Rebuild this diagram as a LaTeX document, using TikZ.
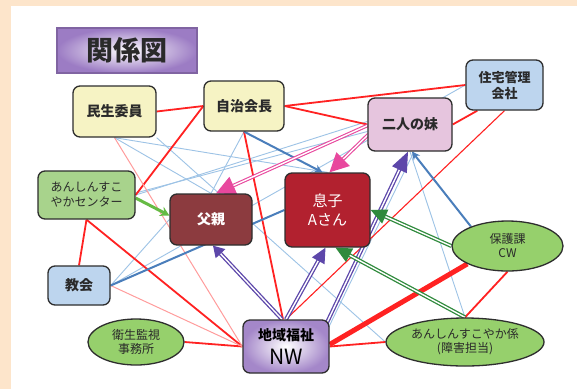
\documentclass[tikz,border=0pt]{standalone}
\usepackage{fontspec}
\newfontfamily\jp{Noto Sans CJK JP}
\usetikzlibrary{arrows.meta,calc,shapes.geometric}
\pgfdeclarelayer{panel}
\pgfdeclarelayer{edges}
\pgfsetlayers{panel,edges,main}
\definecolor{peach}{HTML}{FDE5CB}
\definecolor{yel}{HTML}{F6F3C4}
\definecolor{lblue}{HTML}{BDD5EE}
\definecolor{lpink}{HTML}{E6C5DE}
\definecolor{boxgreen}{HTML}{A8D38C}
\definecolor{ellgreen}{HTML}{96D06C}
\definecolor{chichicol}{HTML}{8C3B3F}
\definecolor{musukocol}{HTML}{B2212F}
\definecolor{boxline}{HTML}{2E2E2E}
\definecolor{textdark}{HTML}{2A2A2A}
\definecolor{nwpurple}{HTML}{A487C9}
\definecolor{titlepurple}{HTML}{9C7CC4}
\definecolor{titleborder}{HTML}{8064A2}
\definecolor{redc}{HTML}{FF2222}
\definecolor{pinkthinc}{HTML}{FF9C9C}
\definecolor{lbc}{HTML}{9DC3E6}
\definecolor{mbc}{HTML}{4A7EBB}
\definecolor{pinkc}{HTML}{E8489E}
\definecolor{purc}{HTML}{5D47AA}
\definecolor{grc}{HTML}{2F8A3C}
\definecolor{lgc}{HTML}{66BB44}
\tikzset{
  box/.style={draw=boxline, line width=1.3pt, rounded corners=7pt, align=center,
    inner sep=0pt, text=textdark, font=\jp\bfseries\fontsize{14}{17}\selectfont},
  ell/.style={ellipse, draw=boxline, line width=1.3pt, fill=ellgreen, align=center,
    inner sep=0pt, text=textdark, font=\jp\fontsize{12}{14}\selectfont},
  redl/.style={draw=redc, line width=1.8pt},
  redthick/.style={draw=redc, line width=5pt},
  redthin/.style={draw=redc, line width=1.1pt},
  pinkthin/.style={draw=pinkthinc, line width=1pt},
  lb/.style={draw=lbc, line width=0.9pt},
  mb/.style={draw=mbc, line width=2pt},
  pinkar/.style={draw=pinkc, double=white, line width=1.1pt, double distance=1.4pt,
    -{Triangle[length=19pt,width=19pt]}},
  purar/.style={draw=purc, double=white, line width=1.3pt, double distance=1.4pt},
  grar/.style={draw=grc, double=white, line width=1.3pt, double distance=1.4pt,
    -{Triangle[length=16pt,width=15pt]}},
  lgar/.style={draw=lgc, line width=3pt, -{Stealth[length=9pt,width=10pt]}},
}
\begin{document}
\begin{tikzpicture}[x=1pt,y=-1pt]
\useasboundingbox (0,0) rectangle (577,389);
\begin{pgfonlayer}{panel}
  \fill[peach] (0,0) rectangle (577,389);
  \fill[white] (11,6) rectangle (577,389);
\end{pgfonlayer}

% title
\node[draw=titleborder, line width=1.2pt, inner color=white, outer color=titlepurple,
  minimum width=140pt, minimum height=45pt, inner sep=0pt, text=textdark,
  font=\jp\bfseries\fontsize{27}{30}\selectfont] (title) at (127,50.5) {関係図};

% nodes
\node[box, fill=yel, minimum width=83pt, minimum height=51pt] (mins) at (114.5,111.5) {民生委員};
\node[box, fill=yel, minimum width=80pt, minimum height=50pt] (jichi) at (244,106) {自治会長};
\node[box, fill=lblue, minimum width=77pt, minimum height=50pt,
  font=\jp\bfseries\fontsize{13}{16}\selectfont] (jutaku) at (504.5,85) {住宅管理\\会社};
\node[box, fill=lpink, minimum width=84pt, minimum height=53pt] (imouto) at (410,124.5) {二人の妹};
\node[box, fill=boxgreen, minimum width=97pt, minimum height=48pt,
  font=\jp\fontsize{12}{15}\selectfont] (center) at (86.5,195) {あんしんすこ\\やかセンター};
\node[box, fill=chichicol, text=white, minimum width=82pt, minimum height=51pt] (chichi) at (211,219.5) {父親};
\node[box, fill=musukocol, text=white, minimum width=85pt, minimum height=74pt,
  font=\jp\fontsize{15}{19}\selectfont] (musuko) at (327.5,210) {息子\\Aさん};
\node[box, fill=lblue, minimum width=62pt, minimum height=39pt] (kyokai) at (79,285.5) {教会};
\node[box, inner color=white, outer color=nwpurple, minimum width=86pt, minimum height=53pt,
  text=black] (nw) at (286,346.5) {地域福祉\\[7pt]{\fontseries{m}\fontsize{21}{22}\selectfont NW}};
\node[ell, minimum width=96pt, minimum height=46pt] (eisei) at (136,342) {衛生監視\\事務所};
\node[ell, minimum width=111pt, minimum height=50pt] (hogo) at (507.5,246) {保護課\\CW};
\node[ell, minimum width=158pt, minimum height=48pt] (kakari) at (465,342) {あんしんすこやか係\\(障害担当)};

\begin{pgfonlayer}{edges}
  % light blue thin
  \draw[lb] (mins.south) -- (chichi.north);
  \draw[lb] (mins.south) -- (musuko.north);
  \draw[lb] (mins.south east) -- (kakari.west);
  \draw[lb] (jichi.south) -- (chichi.north);
  \draw[lb] (center.east) -- ($(imouto.west)+(0,-3)$);
  \draw[lb] ($(center.east)+(0,-2)$) -- ($(imouto.west)+(0,7)$);
  \draw[lb] (kyokai.east) -- (chichi.west);
  \draw[lb] (kyokai.east) -- (jutaku.west);
  \draw[lb] (imouto.south) -- (kakari.north);
  \draw[lb] ($(nw.north east)+(-1,8)$) -- ($(imouto.south)+(4,0)$);
  % red
  \draw[redl] (mins.east) -- (jichi.west);
  \draw[redl] (jichi.east) -- (jutaku.west);
  \draw[redl] (jichi.east) -- (imouto.west);
  \draw[redl] (imouto.east) -- ($(jutaku.south west)+(12,0)$);
  \draw[redthin] (jutaku.south) -- (nw.north);
  \draw[redl] (jichi.south) -- ($(nw.north)+(-3,0)$);
  \draw[redl] (jichi.west) -- (center.east);
  \draw[redl] (center.south) -- (kyokai.north);
  \draw[redl] (center.south) -- (nw.west);
  \draw[redl] (eisei.east) -- (nw.west);
  \draw[pinkthin] (kyokai.east) -- (nw.west);
  \draw[pinkthin] (mins.south) -- (nw.west);
  \draw[redl] (kakari.west) -- (nw.east);
  \draw[redthick] (hogo.204) -- ($(nw.east)+(0,-2)$);
  \draw[redl] (hogo.south) -- (kakari.north);
  % medium blue
  \draw[mb] (kyokai.east) -- (musuko.west);
  \draw[mb, -{Stealth[length=8pt,width=8pt]}] (jichi.south) -- ($(musuko.north)+(-5,0)$);
  \draw[mb, -{Stealth[length=8pt,width=8pt]}] (hogo.152) -- ($(imouto.south)+(2,0)$);
  % light green
  \draw[lgar] ($(center.east)+(0,3)$) -- ($(chichi.west)+(0,-4)$);
  % pink
  \draw[pinkar] ($(imouto.west)+(0,1)$) -- ($(chichi.north)+(5,0)$);
  \draw[pinkar] ($(imouto.west)+(1,10)$) -- ($(musuko.north)+(2,0)$);
  % purple
  \draw[purar, -{Triangle[length=11pt,width=13pt]}] ($(nw.north)+(-4,0)$) -- ($(chichi.south)+(2,0)$);
  \draw[purar, -{Triangle[length=15pt,width=14pt]}] (nw.north) -- ($(musuko.south)+(-2,0)$);
  \draw[purar, -{Triangle[length=20pt,width=16pt]}] ($(nw.north east)+(-4,6)$) -- ($(imouto.south)+(-2,0)$);
  % green
  \draw[grar] (hogo.west) -- (musuko.east);
  \draw[grar] (kakari.north) -- ($(musuko.south)+(8,0)$);
\end{pgfonlayer}
\end{tikzpicture}
\end{document}
